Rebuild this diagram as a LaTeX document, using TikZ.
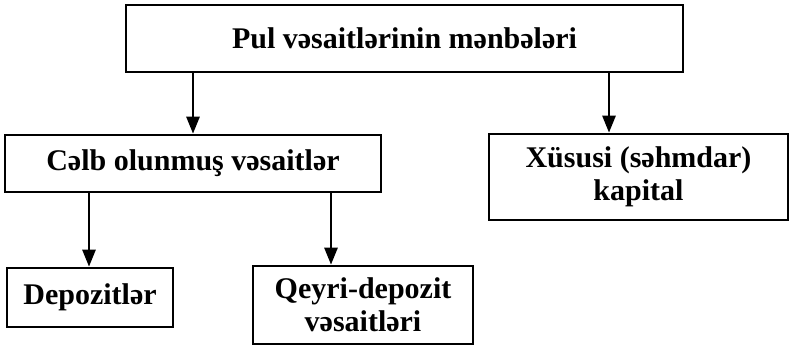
\documentclass[tikz,border=0pt]{standalone}
\usepackage{fontspec}
\setmainfont{Liberation Serif}
\usetikzlibrary{arrows.meta}
\tikzset{
	box/.style={draw, line width=2.6pt, inner sep=0pt, align=center,
		font=\bfseries\fontsize{30}{33}\selectfont},
	arr/.style={line width=2.6pt, -{Triangle[width=13pt,length=17pt]}}
}
\begin{document}
\begin{tikzpicture}[x=1pt,y=-1pt]
	\useasboundingbox (0,0) rectangle (789,345);
	\node[box, minimum width=557pt, minimum height=67pt] (top) at (404.5,38.5)
		{Pul vəsaitlərinin mənbələri};
	\node[box, minimum width=376pt, minimum height=57pt] (celb) at (193,163.5)
		{Cəlb olunmuş vəsaitlər};
	\node[box, minimum width=299pt, minimum height=86pt] (xusus) at (638.5,177)
		{Xüsusi (səhmdar)\\kapital};
	\node[box, minimum width=166pt, minimum height=59pt] (depo) at (90,297.5)
		{Depozitlər};
	\node[box, minimum width=220pt, minimum height=78pt] (qeyri) at (363,305)
		{Qeyri-depozit\\vəsaitləri};
	% arrows
	\draw[arr] (top.south -| celb.north) -- (celb.north);
	\draw[arr] (top.south -| 609,0) -- (xusus.north -| 609,0);
	\draw[arr] (celb.south -| 89,0) -- (depo.north -| 89,0);
	\draw[arr] (celb.south -| 331,0) -- (qeyri.north -| 331,0);
\end{tikzpicture}
\end{document}
